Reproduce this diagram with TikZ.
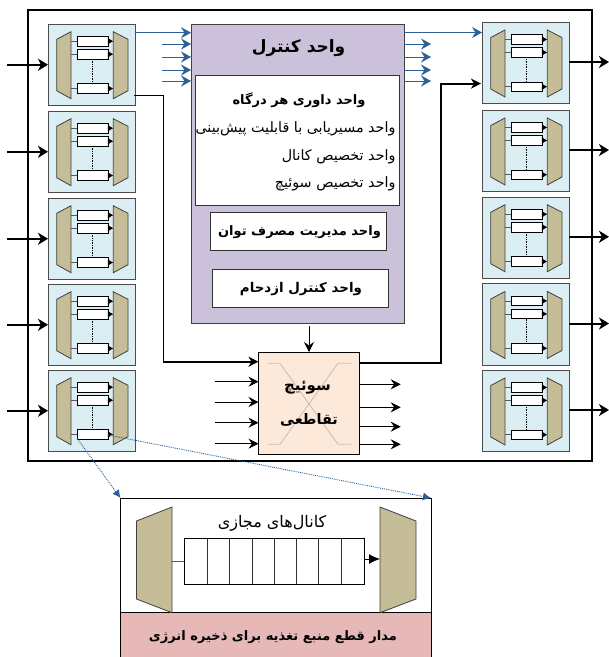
\documentclass[tikz,border=0pt]{standalone}
\usepackage{fontspec}
\usetikzlibrary{arrows.meta}
\newfontfamily\farsi[Script=Arabic]{DejaVu Sans}
\TeXXeTstate=1
\newcommand{\fa}[1]{\farsi\beginR #1\endR}
\definecolor{muxcol}{HTML}{C4BD97}
\definecolor{portcol}{HTML}{DAEEF3}
\definecolor{ctlcol}{HTML}{CCC1DA}
\definecolor{xbarcol}{HTML}{FDE9D9}
\definecolor{pinkcol}{HTML}{E6B8B7}
\definecolor{bluecol}{HTML}{2F5F98}
\tikzset{
  mux/.style={draw=black!75,fill=muxcol,line width=0.8pt},
  portblock/.style={draw=black!70,fill=portcol,line width=0.9pt,minimum width=87pt,minimum height=81.5pt,inner sep=0pt,outer sep=0pt},
  buf/.style={draw=black,fill=white,line width=0.8pt},
  wire/.style={draw=black!65,line width=0.8pt},
  tip/.style={-{Latex[length=5.5pt,width=7pt]},draw=black,line width=0.8pt},
  bigarrow/.style={-{Stealth[length=10pt,width=12pt,inset=3pt]},line width=2pt},
  linkarrow/.style={-{Stealth[length=10pt,width=10pt,inset=3pt]},line width=1.8pt},
  thinarrow/.style={-{Stealth[length=10pt,width=10pt,inset=3.5pt]},line width=0.7pt},
  bluearrow/.style={-{Stealth[length=10pt,width=11pt,inset=3.5pt]},draw=bluecol,line width=0.7pt},
  callout/.style={-{Latex[length=8pt,width=8pt]},draw=bluecol,densely dotted,line width=0.9pt},
  unitbox/.style={draw=black!80,fill=white,line width=0.8pt,minimum width=176pt,minimum height=38pt,inner sep=0pt,outer sep=0pt},
  router/.pic={
    \draw[mux] (8.7,15.3)--(23,7.7)--(23,74.7)--(8.7,66.7)--cycle;
    \draw[mux] (65.3,7.7)--(80,15.3)--(80,66.7)--(65.3,74.7)--cycle;
    \foreach \y in {17.2,30.2,64.5}{
      \draw[wire] (23,\y)--(29.3,\y);
      \draw[buf] (29.3,\y-4.8) rectangle (60,\y+4.8);
      \draw[tip] (60,\y)--(65.3,\y);
    }
    \draw[densely dotted,line width=0.7pt] (44.5,35)--(44.5,59.7);
  }
}
\begin{document}
\begin{tikzpicture}[x=1pt,y=-1pt,line cap=butt,line join=miter]
\useasboundingbox (0,0) rectangle (609,657);
\node[draw=black,line width=1.6pt,minimum width=564pt,minimum height=451pt,inner sep=0pt,outer sep=0pt] (chip) at (310,235.5) {};
% input and output ports
\foreach \i/\y in {1/64.75,2/151.75,3/238.75,4/324.75,5/410.75}{
  \node[portblock] (in\i) at (91.5,\y) {};
  \pic at (in\i.north west) {router};
  \coordinate (src\i) at (7,\y);
  \draw[bigarrow] (src\i) -- (in\i.west);
}
\foreach \i/\y in {1/62,2/150,3/236.75,4/323.5,5/410}{
  \node[portblock] (out\i) at (525.5,\y+1) {};
  \pic at (out\i.north west) {router};
  \coordinate (dst\i) at (609,\y);
  \draw[bigarrow] (out\i.east |- dst\i) -- (dst\i);
}
% control unit
\node[draw=black!75,fill=ctlcol,line width=1pt,minimum width=213pt,minimum height=299pt,inner sep=0pt,outer sep=0pt] (ctl) at (297.5,173.5) {};
\node[font=\fontsize{17}{20}\selectfont\bfseries] (ctltitle) at (298.5,48) {\fa{واحد کنترل}};
\node[draw=black!80,fill=white,line width=0.8pt,minimum width=204.5pt,minimum height=130pt,inner sep=0pt,outer sep=0pt] (arb) at (297.25,140) {};
\node[font=\fontsize{13}{15}\selectfont\bfseries] (arbtitle) at (299,100) {\fa{واحد داوری هر درگاه}};
\node[font=\fontsize{14.3}{16}\selectfont,anchor=east] (arbA) at (399,129) {\fa{واحد مسیریابی با قابلیت پیش‌بینی}};
\node[font=\fontsize{14.3}{16}\selectfont,anchor=east] (arbB) at (399,156.5) {\fa{واحد تخصیص کانال}};
\node[font=\fontsize{14.3}{16}\selectfont,anchor=east] (arbC) at (399,184) {\fa{واحد تخصیص سوئیچ}};
\node[unitbox] (power) at (298.7,231.5) {};
\node[font=\fontsize{13}{15}\selectfont\bfseries] (powertxt) at (299.5,232.5) {\fa{واحد مدیریت مصرف توان}};
\node[unitbox] (cong) at (300,288) {};
\node[font=\fontsize{13.4}{15}\selectfont\bfseries] (congtxt) at (301,289) {\fa{واحد کنترل ازدحام}};
% crossbar
\node[draw=black,fill=xbarcol,line width=0.9pt,minimum width=101pt,minimum height=102pt,inner sep=0pt,outer sep=0pt] (xbar) at (309,403) {};
\draw[black!25,line width=0.8pt] (267.3,363.3)--(280,363.3)--(338,444.3)--(351.7,444.3);
\draw[black!25,line width=0.8pt] (267.3,444.3)--(280,444.3)--(338,363.3)--(351.7,363.3);
\node[font=\fontsize{15}{17}\selectfont\bfseries] (xbarA) at (307.5,388) {\fa{سوئیچ}};
\node[font=\fontsize{14.5}{17}\selectfont\bfseries] (xbarB) at (309,420) {\fa{تقاطعی}};
\coordinate (ctlbot) at (309,326);
\draw[thinarrow,line width=1pt] (ctlbot) -- (xbar.north);
% links
\coordinate (inlink) at (134,95.5);
\coordinate (inknee) at (163.5,95.5);
\coordinate (xin) at (258.5,361.7);
\draw[linkarrow] (inlink) -- (inknee) -- (inknee |- xin) -- (xin);
\coordinate (xout) at (359.5,363.3);
\coordinate (outknee) at (441,363.3);
\coordinate (outlink) at (481,83.6);
\draw[linkarrow] (xout) -- (outknee) -- (outknee |- outlink) -- (outlink);
\foreach \i/\y in {1/381.7,2/402,3/422.7,4/443.7}{
  \coordinate (xa\i) at (215,\y);
  \draw[thinarrow] (xa\i) -- (xa\i -| xbar.west);
}
\foreach \i/\y in {1/384.3,2/407.3,3/426.7,4/444.3}{
  \coordinate (xb\i) at (400.7,\y);
  \draw[thinarrow] (xb\i -| xbar.east) -- (xb\i);
}
% control signals
\coordinate (cl1) at (135,32.7);
\coordinate (cr1) at (404,32.5);
\draw[bluearrow] (cl1) -- (cl1 -| ctl.west);
\draw[bluearrow] (cr1) -- (cr1 -| out1.west);
\foreach \i/\y in {2/44,3/57,4/70,5/81}{
  \coordinate (cl\i) at (162,\y);
  \coordinate (cr\i) at (431,\y);
  \draw[bluearrow] (cl\i) -- (cl\i -| ctl.west);
  \draw[bluearrow] (cr\i -| ctl.east) -- (cr\i);
}
% virtual channel detail
\node[draw=black,fill=white,line width=0.9pt,minimum width=310.5pt,minimum height=114.7pt,inner sep=0pt,outer sep=0pt] (detail) at (275.75,555.35) {};
\node[draw=black,fill=pinkcol,line width=0.9pt,minimum width=310.5pt,minimum height=46pt,inner sep=0pt,outer sep=0pt] (pink) at (275.75,635.7) {};
\node[font=\fontsize{13}{15}\selectfont\bfseries] (pinktxt) at (273,637) {\fa{مدار قطع منبع تغذیه برای ذخیره انرژی}};
\draw[mux] (136.5,521)--(172,507)--(172,612.7)--(136.5,599)--cycle;
\draw[mux] (380,507)--(416,521)--(416,599)--(380,612.7)--cycle;
\node[font=\fontsize{16}{18}\selectfont] (vctxt) at (272,523) {\fa{کانال‌های مجازی}};
\node[draw=black,line width=0.8pt,minimum width=180.5pt,minimum height=45.5pt,inner sep=0pt,outer sep=0pt] (queue) at (274.25,561.25) {};
\foreach \x in {207.3,229.3,252,274.3,296.3,318.7,341.3}
  \draw[line width=0.8pt,black!80] (\x,538.5)--(\x,584);
\coordinate (muxl) at (172,561);
\coordinate (muxr) at (380,559);
\draw[wire] (muxl) -- (queue.west |- muxl);
\draw[draw=black!50,line width=1pt,-{Latex[length=11pt,width=10pt]},black] (queue.east |- muxr) -- (muxr);
\coordinate (bufl) at (77.5,439);
\coordinate (bufr) at (108,435);
\draw[callout] (bufl) -- (detail.north west);
\draw[callout] (bufr) -- (detail.north east);
\end{tikzpicture}
\end{document}
